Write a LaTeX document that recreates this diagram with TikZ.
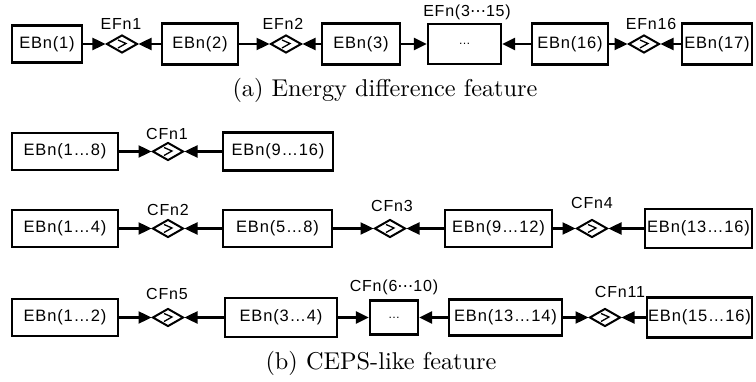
\documentclass[tikz,border=0pt]{standalone}
\usepackage{fontspec}
\usepackage{graphicx}
\usetikzlibrary{shapes.geometric,arrows.meta}
\newfontfamily\arialf{Liberation Sans}[LetterSpace=5]
\newfontfamily\dejaf{DejaVu Sans}
\newcommand\mdots{{\dejaf ⋯}}
\tikzset{
  bx/.style={draw, line width=2.2pt, inner sep=0pt, font=\arialf\fontsize{16.5}{18}\selectfont},
  dm/.style={draw, diamond, line width=2pt, minimum width=31pt, minimum height=18pt, inner sep=0pt,
    path picture={\draw[line width=1.3pt] ([shift={(-4,-4)}]path picture bounding box.center) -- ++(8,3.5) -- ++(-8,4.5);}},
  ar/.style={line width=2.4pt, -{Triangle[length=13pt,width=12pt]}},
  lb/.style={font=\arialf\fontsize{16}{18}\selectfont, inner sep=0pt},
  dotsfont/.style={font=\arialf\fontsize{12}{14}\selectfont},
  captxt/.style={inner sep=0pt}
}
\begin{document}
\begin{tikzpicture}[x=1pt,y=-1pt]
\useasboundingbox (0,0) rectangle (756,382);
% Row 1
\node[bx, minimum width=70pt, minimum height=37pt] (a1) at (47,44) {EBn(1)};
\node[dm] (ed1) at (122,44) {};
\node[bx, minimum width=76pt, minimum height=41pt] (a2) at (200,44) {EBn(2)};
\node[dm] (ed2) at (286,44) {};
\node[bx, minimum width=78pt, minimum height=41pt] (a3) at (361,44) {EBn(3)};
\node[bx, dotsfont, minimum width=73pt, minimum height=40pt] (ad) at (464.5,44) {…};
\node[bx, minimum width=76pt, minimum height=41pt] (a16) at (570,44) {EBn(16)};
\node[dm] (ed16) at (644,44) {};
\node[bx, minimum width=70pt, minimum height=41pt] (a17) at (717,44) {EBn(17)};
\node[lb] (le1) at (121,24) {EFn1};
\node[lb] (le2) at (283,24) {EFn2};
\node[lb] (le3) at (467,12) {EFn(3\mdots15)};
\node[lb] (le16) at (651,24) {EFn16};
\draw[ar] (a1) -- (ed1);
\draw[ar] (a2) -- (ed1);
\draw[ar] (a2) -- (ed2);
\draw[ar] (a3) -- (ed2);
\draw[ar] (a3) -- (ad);
\draw[ar] (a16) -- (ad);
\draw[ar] (a16) -- (ed16);
\draw[ar] (a17) -- (ed16);
\node[captxt] (capa) at (385,90) {\scalebox{2.43}{(a) Energy difference feature}};
% Row 2
\node[bx, minimum width=106pt, minimum height=37pt] (c1) at (65,151.5) {EBn(1…8)};
\node[dm] (cd1) at (168,151.5) {};
\node[bx, minimum width=110pt, minimum height=38pt] (c2) at (278,151.5) {EBn(9…16)};
\node[lb] (lc1) at (167,134) {CFn1};
\draw[ar] (c1) -- (cd1);
\draw[ar] (c2) -- (cd1);
% Row 3
\node[bx, minimum width=106pt, minimum height=37pt] (r31) at (65,228.5) {EBn(1…4)};
\node[dm] (cd2) at (168,228.5) {};
\node[bx, minimum width=109pt, minimum height=37pt] (r32) at (277.5,228.5) {EBn(5…8)};
\node[dm] (cd3) at (390,228.5) {};
\node[bx, minimum width=107pt, minimum height=37pt] (r33) at (498.5,228.5) {EBn(9…12)};
\node[dm] (cd4) at (592,228.5) {};
\node[bx, minimum width=107pt, minimum height=39pt] (r34) at (698.5,228.5) {EBn(13…16)};
\node[lb] (lc2) at (168,210) {CFn2};
\node[lb] (lc3) at (392,206) {CFn3};
\node[lb] (lc4) at (592,203) {CFn4};
\draw[ar] (r31) -- (cd2);
\draw[ar] (r32) -- (cd2);
\draw[ar] (r32) -- (cd3);
\draw[ar] (r33) -- (cd3);
\draw[ar] (r33) -- (cd4);
\draw[ar] (r34) -- (cd4);
% Row 4
\node[bx, minimum width=106pt, minimum height=37pt] (r41) at (65,317.5) {EBn(1…2)};
\node[dm] (cd5) at (168,317.5) {};
\node[bx, minimum width=112pt, minimum height=39pt] (r42) at (281,317.5) {EBn(3…4)};
\node[bx, dotsfont, minimum width=48pt, minimum height=34pt] (r4d) at (394,317.5) {…};
\node[bx, minimum width=113pt, minimum height=36pt] (r43) at (505.5,317.5) {EBn(13…14)};
\node[dm] (cd11) at (605,317.5) {};
\node[bx, minimum width=105pt, minimum height=40pt] (r44) at (699.5,317.5) {EBn(15…16)};
\node[lb] (lc5) at (167,294) {CFn5};
\node[lb] (lc6) at (394,287) {CFn(6\mdots10)};
\node[lb] (lc11) at (620,292) {CFn11};
\draw[ar] (r41) -- (cd5);
\draw[ar] (r42) -- (cd5);
\draw[ar] (r42) -- (r4d);
\draw[ar] (r43) -- (r4d);
\draw[ar] (r43) -- (cd11);
\draw[ar] (r44) -- (cd11);
\node[captxt] (capb) at (381,363) {\scalebox{2.43}{(b) CEPS-like feature}};
\end{tikzpicture}
\end{document}
